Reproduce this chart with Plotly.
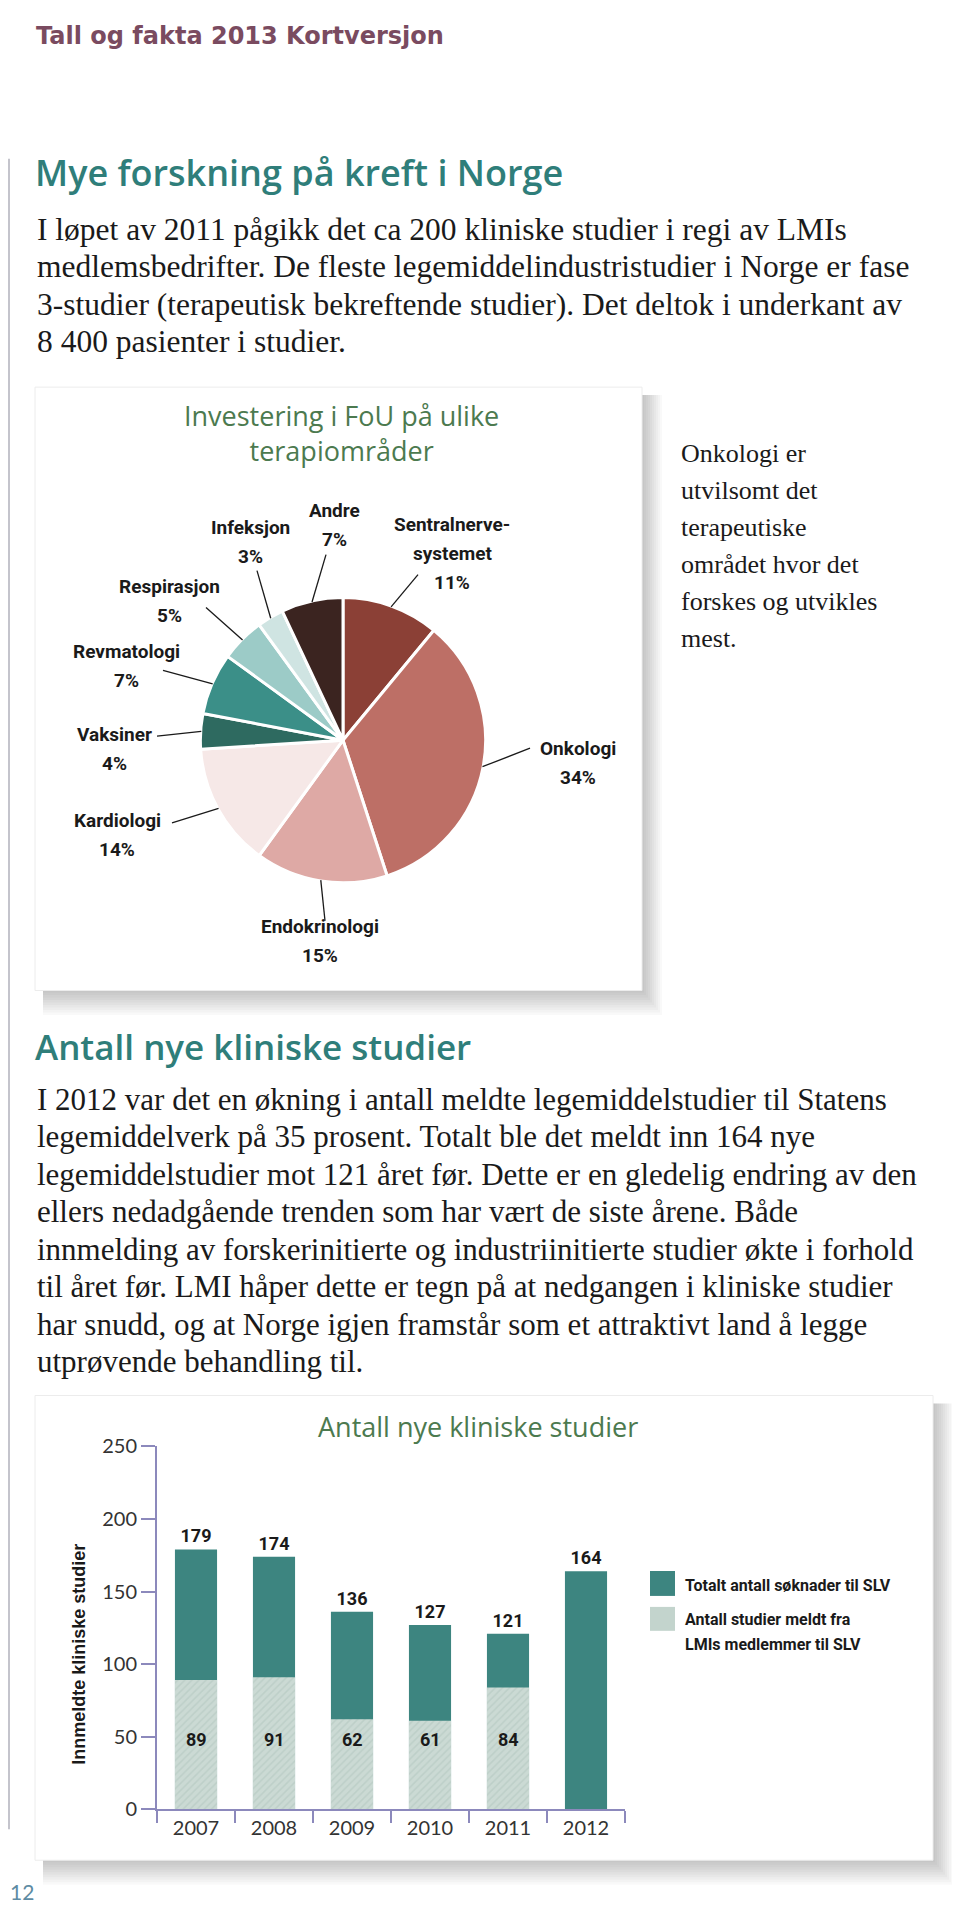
import math

import plotly.graph_objects as go

# the page body keeps the browser's 8px margin, so the figure is drawn
# 8px in and every position below is given in window pixels
W, H = 952, 1904
OFF = 8
# small vertical correction measured from the previous renders
Y_SHIFT, Y_SCALE = 11, 0.99

# --- data -------------------------------------------------------------------
areas = ["Sentralnerve-\nsystemet", "Onkologi", "Endokrinologi", "Kardiologi",
         "Vaksiner", "Revmatologi", "Respirasjon", "Infeksjon", "Andre"]
shares = [11, 34, 15, 14, 4, 7, 5, 3, 7]
area_colors = ["#8B4036", "#BD6F66", "#DEA9A5", "#F6E8E7", "#2E6A60",
               "#3B8F88", "#9CCBC7", "#CFE4E2", "#3B2420"]

years = ["2007", "2008", "2009", "2010", "2011", "2012"]
total_apps = [179, 174, 136, 127, 121, 164]
lmi_studies = [89, 91, 62, 61, 84, None]
y_ticks = [0, 50, 100, 150, 200, 250]

intro_lines = [
    "I løpet av 2011 pågikk det ca 200 kliniske studier i regi av LMIs",
    "medlemsbedrifter. De fleste legemiddelindustristudier i Norge er fase",
    "3-studier (terapeutisk bekreftende studier). Det deltok i underkant av",
    "8 400 pasienter i studier.",
]
side_lines = ["Onkologi er", "utvilsomt det", "terapeutiske",
              "området hvor det", "forskes og utvikles", "mest."]
body_lines = [
    "I 2012 var det en økning i antall meldte legemiddelstudier til Statens",
    "legemiddelverk på 35 prosent. Totalt ble det meldt inn 164 nye",
    "legemiddelstudier mot 121 året før. Dette er en gledelig endring av den",
    "ellers nedadgående trenden som har vært de siste årene. Både",
    "innmelding av forskerinitierte og industriinitierte studier økte i forhold",
    "til året før. LMI håper dette er tegn på at nedgangen i kliniske studier",
    "har snudd, og at Norge igjen framstår som et attraktivt land å legge",
    "utprøvende behandling til.",
]

# label placement around the pie (window pixels)
label_pos = [(452, 524), (578, 748), (320, 927), (117, 821), (114, 734),
             (126, 651), (169, 586), (250, 527), (334, 510)]
leader_end = [(418, 574), (530, 748), (325, 921), (172, 823), (157, 736),
              (163, 670), (206, 607), (257, 570), (326, 554)]

TEAL = "#2F7E7A"
GREEN = "#4C7A4F"
SERIF = "Liberation Serif"
NARROW = "Roboto"
AXIS = "#8C89BC"


def px(x):
    return (x - OFF) / W


def py(y):
    y = (y - Y_SHIFT) / Y_SCALE
    return 1 - (y - OFF) / H


fig = go.Figure()


def text(x, y, s, size, color="#1a1a1a", family=SERIF, weight="normal",
         anchor="left", angle=0):
    fig.add_annotation(x=px(x), y=py(y), xref="paper", yref="paper", text=s,
                       showarrow=False, xanchor=anchor, yanchor="middle",
                       textangle=angle, borderpad=0,
                       font=dict(size=size, color=color, family=family,
                                 weight=weight))


def card(x0, y0, x1, y1):
    # soft drop shadow to the right and below, then the white card
    for i in range(10):
        fig.add_shape(type="rect", xref="paper", yref="paper", layer="below",
                      x0=px(x0 + 8), y0=py(y0 + 8),
                      x1=px(x1 + 2 + 2 * i), y1=py(y1 + 2 + 2.5 * i),
                      fillcolor="rgba(0,0,0,0.022)", line_width=0)
    fig.add_shape(type="rect", xref="paper", yref="paper", layer="below",
                  x0=px(x0), y0=py(y0), x1=px(x1), y1=py(y1),
                  fillcolor="white", line=dict(color="#ececec", width=1))


# --- page text ---------------------------------------------------------------
# running header sits right at the top edge of the figure
fig.add_annotation(x=px(35), y=1, xref="paper", yref="paper",
                   text="Tall og fakta 2013 Kortversjon", showarrow=False,
                   xanchor="left", yanchor="top", borderpad=0,
                   font=dict(size=24, color="#7A4B60", family="DejaVu Sans",
                             weight="bold"))
fig.add_shape(type="line", xref="paper", yref="paper", x0=px(9), x1=px(9),
              y0=py(157), y1=py(1832), line=dict(color="#C4C4CC", width=2))

text(34, 171, "Mye forskning på kreft i Norge", 36, TEAL, "Open Sans", 600)
for i, line in enumerate(intro_lines):
    text(36, 228 + i * 37.5, line, 31.5)

text(34, 1047, "Antall nye kliniske studier", 35, TEAL, "Open Sans", 600)
for i, line in enumerate(body_lines):
    text(36, 1100 + i * 37.6, line, 31)

for i, line in enumerate(side_lines):
    text(680, 453 + i * 37, line, 26)

text(9, 1894, "12", 21, "#5D8BA3", "Lato")

# --- pie card ------------------------------------------------------------------
card(35, 386, 642, 991)
text(341, 432, "Investering i FoU på ulike<br>terapiområder", 27, GREEN,
     "Open Sans", anchor="center")

PIE_CX, PIE_CY, PIE_R = 343, 740, 143
fig.add_trace(go.Pie(
    labels=[a.replace("\n", "") for a in areas], values=shares,
    sort=False, direction="clockwise", rotation=0,
    marker=dict(colors=area_colors, line=dict(color="white", width=3)),
    textinfo="none", hoverinfo="skip", showlegend=False,
    domain=dict(x=[px(PIE_CX - PIE_R), px(PIE_CX + PIE_R)],
                y=[py(PIE_CY + PIE_R), py(PIE_CY - PIE_R)]),
))

total = sum(shares)
cum = 0
for name, v, (lx, ly), (ex, ey) in zip(areas, shares, label_pos, leader_end):
    mid = 2 * math.pi * (cum + v / 2) / total
    cum += v
    ax = PIE_CX + (PIE_R - 1) * math.sin(mid)
    ay = PIE_CY - (PIE_R - 1) * math.cos(mid)
    fig.add_shape(type="line", xref="paper", yref="paper",
                  x0=px(ex), y0=py(ey), x1=px(ax), y1=py(ay),
                  line=dict(color="#1a1a1a", width=1.3))
    rows = name.split("\n") + [f"{v}%"]
    for j, row in enumerate(rows):
        text(lx, ly + j * 29, row, 19, "#1a1a1a", NARROW, "bold", "center")

# --- bar card ------------------------------------------------------------------
card(35, 1397, 933, 1863)
text(478, 1428, "Antall nye kliniske studier", 27, GREEN, "Open Sans", anchor="center")
text(79, 1657, "Innmeldte kliniske studier", 18, "#1a1a1a", "Liberation Sans",
     "bold", "center", -90)

fig.add_trace(go.Bar(
    x=years, y=total_apps, width=0.54,
    marker=dict(color="#3D8580", line_width=0),
    text=total_apps, textposition="outside", cliponaxis=False,
    textfont=dict(family=NARROW, size=18, color="#1a1a1a", weight="bold"),
    hoverinfo="skip",
))
fig.add_trace(go.Bar(
    x=years, y=lmi_studies, width=0.54,
    marker=dict(color="#CBDAD4", line_width=0,
                pattern=dict(shape="/", bgcolor="#CBDAD4", fgcolor="#AFC4BC",
                             size=5, solidity=0.3)),
    hoverinfo="skip",
))
# on a category axis annotations take the category's serial number
for i, v in enumerate(lmi_studies):
    if v is not None:
        fig.add_annotation(x=i, y=48, xref="x", yref="y", text=str(v),
                           showarrow=False,
                           font=dict(family=NARROW, size=18, color="#1a1a1a",
                                     weight="bold"))

# legend swatches
fig.add_shape(type="rect", xref="paper", yref="paper",
              x0=px(650), x1=px(675), y0=py(1573), y1=py(1598),
              fillcolor="#3D8580", line_width=0)
fig.add_shape(type="rect", xref="paper", yref="paper",
              x0=px(650), x1=px(675), y0=py(1609), y1=py(1633),
              fillcolor="#C3D4CD", line_width=0)
text(684, 1588, "Totalt antall søknader til SLV", 16, "#1a1a1a", NARROW, "bold")
text(684, 1622, "Antall studier meldt fra", 16, "#1a1a1a", NARROW, "bold")
text(684, 1647, "LMIs medlemmer til SLV", 16, "#1a1a1a", NARROW, "bold")

fig.update_layout(
    width=W, height=H, margin=dict(l=0, r=0, t=0, b=0),
    paper_bgcolor="white", plot_bgcolor="rgba(0,0,0,0)",
    showlegend=False, barmode="overlay",
    xaxis=dict(domain=[px(157), px(625)], type="category", range=[-0.5, 5.5],
               showline=True, linecolor=AXIS, linewidth=2,
               ticks="outside", tickson="boundaries", ticklen=12,
               tickwidth=2, tickcolor=AXIS, showgrid=False, zeroline=False,
               tickfont=dict(family="Lato", size=20, color="#333")),
    yaxis=dict(domain=[py(1812), py(1448)], range=[0, 250], tickvals=y_ticks,
               showline=True, linecolor=AXIS, linewidth=2,
               ticks="outside", ticklen=14, tickwidth=2, tickcolor=AXIS,
               showgrid=False, zeroline=False,
               tickfont=dict(family="Lato", size=20, color="#333")),
)

fig.write_html("out.html")
